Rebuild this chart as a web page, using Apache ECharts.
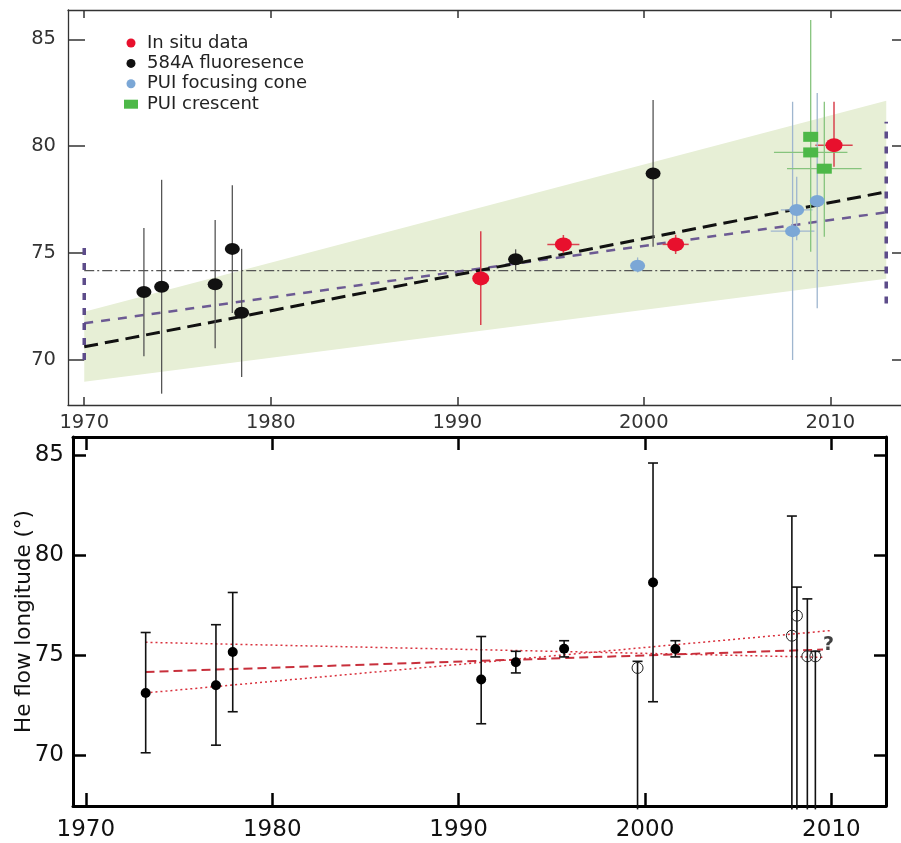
<!DOCTYPE html>
<html>
<head>
<meta charset="utf-8">
<title>He flow longitude</title>
<script src="https://cdn.jsdelivr.net/npm/echarts@6/dist/echarts.min.js"></script>
<style>
  html, body { margin: 0; padding: 0; background: #fff; }
  #chart { width: 901px; height: 843px; }
</style>
</head>
<body>
<div id="chart"></div>
<script>
// tick labels
const yearTicks = [1970, 1980, 1990, 2000, 2010]
const degTicks = [70, 75, 80, 85]

// top panel: [year, value, low, high, xErr]
const inSitu = [
  [1991.26, 73.82, 71.64, 76.03, 0],
  [1995.69, 75.41, 75.00, 75.85, 0.86],
  [2001.71, 75.41, 74.96, 75.86, 0.70],
  [2010.20, 80.05, 79.04, 82.08, 1.00]
]
const fluor584 = [
  [1973.20, 73.18, 70.18, 76.18, 0],
  [1974.15, 73.43, 68.43, 78.43, 0],
  [1977.02, 73.55, 70.55, 76.55, 0],
  [1977.94, 75.20, 72.20, 78.18, 0],
  [1978.44, 72.21, 69.21, 75.20, 0],
  [1993.13, 74.72, 74.20, 75.18, 0.40],
  [2000.50, 78.73, 75.30, 82.16, 0]
]
const puiCone = [
  [1999.67, 74.41, 74.10, 74.80, 0],
  [2007.98, 76.03, 70.00, 82.08, 1.17],
  [2008.20, 77.02, 75.60, 78.57, 0.85],
  [2009.30, 77.44, 72.42, 82.49, 0]
]
const puiCrescent = [
  [2008.95, 80.44, 75.07, 85.90, 0],
  [2008.95, 79.71, 79.71, 79.71, 1.97],
  [2009.68, 78.95, 75.77, 82.08, 2.00]
]
// fits in the top panel
const bandYears = [1970, 2013]
const bandLow = [68.99, 73.80]
const bandHigh = [72.26, 82.13]
const fitBlack = [[1970, 70.62], [2013, 77.87]]
const fitPurple = [[1970, 71.72], [2013, 76.91]]
const meanLine = [[1970, 74.18], [2013, 74.18]]
const rangeStart = [[1970, 70.0], [1970, 75.46]]
const rangeEnd = [[2013, 72.65], [2013, 81.15]]

// bottom panel: [year, value, low, high]
const botFilled = [
  [1973.21, 73.12, 70.13, 76.14],
  [1976.98, 73.50, 70.51, 76.53],
  [1977.88, 75.17, 72.18, 78.14],
  [1991.21, 73.79, 71.58, 75.94],
  [1993.07, 74.65, 74.12, 75.20],
  [1995.66, 75.33, 74.92, 75.73],
  [2000.43, 78.64, 72.68, 84.61],
  [2001.63, 75.32, 74.92, 75.73]
]
const botOpen = [
  [1999.60, 74.37, 67.30, 74.70],
  [2007.88, 75.98, 67.30, 81.96],
  [2008.15, 76.98, 67.30, 78.41],
  [2008.71, 74.95, 67.30, 77.82],
  [2009.14, 74.95, 67.30, 75.20]
]
const botFit = [[1973.2, 74.17], [2009.55, 75.29]]
const botRise = [[1973.2, 73.12], [2010.0, 76.24]]
const botFall = [[1973.2, 75.65], [2009.6, 74.90]]
const questionMark = [[2009.85, 75.5]]

// axis ranges (top one runs a little past the right edge of the page)
const topX = [1969.13, 2014.06], topY = [67.9, 86.37]
const botX = [1969.31, 2012.93], botY = [67.47, 85.91]

const FONT = '"DejaVu Sans", Verdana, sans-serif'

function errSeries(data, color, width, grid, cap) {
  return {
    type: 'custom', xAxisIndex: grid * 2, yAxisIndex: grid * 2, data, silent: true, z: 3,
    renderItem(params, api) {
      const x = api.value(0), lo = api.value(2), hi = api.value(3), xe = api.value(4) || 0
      const y = api.value(1)
      const a = api.coord([x, hi]), b = api.coord([x, lo])
      const kids = []
      const st = { stroke: color, lineWidth: width }
      if (hi !== lo) kids.push({ type: 'line', shape: { x1: a[0], y1: a[1], x2: b[0], y2: b[1] }, style: st })
      if (xe > 0) {
        const l = api.coord([x - xe, y]), r = api.coord([x + xe, y])
        kids.push({ type: 'line', shape: { x1: l[0], y1: l[1], x2: r[0], y2: r[1] }, style: st })
      }
      if (cap) {
        kids.push({ type: 'line', shape: { x1: a[0] - cap, y1: a[1], x2: a[0] + cap, y2: a[1] }, style: st })
        if (lo >= botY[0]) kids.push({ type: 'line', shape: { x1: b[0] - cap, y1: b[1], x2: b[0] + cap, y2: b[1] }, style: st })
      }
      return { type: 'group', children: kids }
    }
  }
}

function lineSeries(data, color, width, dash, grid, z) {
  return {
    type: 'line', xAxisIndex: grid * 2, yAxisIndex: grid * 2, data, symbol: 'none', silent: true, z: z || 2,
    lineStyle: { color, width, type: dash, cap: 'butt' }
  }
}

const plain = v => String(v)

function xAxes(grid, range, bottom) {
  const line = bottom ? { color: '#000', width: 3 } : { color: '#333', width: 1.3 }
  const base = {
    type: 'value', gridIndex: grid, min: range[0], max: range[1], splitLine: { show: false },
    axisLine: { show: true, onZero: false, lineStyle: line },
    axisTick: { show: true, inside: true, length: bottom ? 13 : 8, lineStyle: { color: line.color, width: bottom ? 2.5 : 1.5 }, customValues: yearTicks }
  }
  return [
    Object.assign({}, base, {
      position: 'bottom',
      axisLabel: { show: true, customValues: yearTicks, formatter: plain, margin: bottom ? 13 : 8, fontSize: bottom ? 23 : 19.5, color: bottom ? '#111' : '#333', fontFamily: FONT }
    }),
    Object.assign({}, base, { position: 'top', axisLabel: { show: false } })
  ]
}

function yAxes(grid, range, bottom) {
  const line = bottom ? { color: '#000', width: 3 } : { color: '#333', width: 1.3 }
  const base = {
    type: 'value', gridIndex: grid, min: range[0], max: range[1], splitLine: { show: false },
    axisLine: { show: true, onZero: false, lineStyle: line },
    axisTick: { show: true, inside: true, length: bottom ? 13 : 17, lineStyle: { color: line.color, width: bottom ? 2.5 : 1.5 }, customValues: degTicks }
  }
  const left = Object.assign({}, base, {
    position: 'left',
    axisLabel: { show: true, customValues: degTicks, formatter: plain, margin: bottom ? 9 : 12, fontSize: bottom ? 23 : 19.5, color: bottom ? '#111' : '#333', fontFamily: FONT }
  })
  if (bottom) {
    left.name = 'He flow longitude (°)'
    left.nameLocation = 'middle'
    left.nameGap = 38
    left.nameMoveOverlap = false
    left.nameTextStyle = { fontSize: 21.5, color: '#111', fontFamily: FONT }
  }
  const right = Object.assign({}, base, { position: 'right', axisLabel: { show: false } })
  right.axisTick = Object.assign({}, base.axisTick, { length: bottom ? 12 : 14 })
  return [left, right]
}

const chart = echarts.init(document.getElementById('chart'), null, { renderer: 'canvas' })

const option = {
  animation: false,
  backgroundColor: '#fff',
  textStyle: { fontFamily: FONT },
  grid: [
    { left: 68, top: 10, width: 838, height: 395, outerBoundsMode: 'none' },
    { left: 73, top: 437, width: 813, height: 369, outerBoundsMode: 'none' }
  ],
  xAxis: [...xAxes(0, topX, false), ...xAxes(1, botX, true)],
  yAxis: [...yAxes(0, topY, false), ...yAxes(1, botY, true)],
  legend: {
    orient: 'vertical', left: 119, top: 29, itemWidth: 14, itemHeight: 9, itemGap: 2.4,
    selectedMode: false,
    textStyle: { fontSize: 18, color: '#222', fontFamily: FONT, padding: [0, 0, 0, 4] },
    data: [
      { name: 'In situ data', icon: 'circle' },
      { name: '584A fluoresence', icon: 'circle' },
      { name: 'PUI focusing cone', icon: 'circle' },
      { name: 'PUI crescent', icon: 'rect' }
    ]
  },
  series: [
    // confidence band
    {
      type: 'custom', xAxisIndex: 0, yAxisIndex: 0, data: [0], silent: true, z: 1,
      renderItem(params, api) {
        const pts = [
          api.coord([bandYears[0], bandLow[0]]),
          api.coord([bandYears[1], bandLow[1]]),
          api.coord([bandYears[1], bandHigh[1]]),
          api.coord([bandYears[0], bandHigh[0]])
        ]
        return { type: 'polygon', shape: { points: pts }, style: { fill: '#e7efd6' } }
      }
    },
    lineSeries(meanLine, '#555', 1.2, [10, 3, 2, 3], 0),
    lineSeries(fitPurple, '#6c5a93', 2.5, [9, 8], 0),
    lineSeries(fitBlack, '#111', 3, [14, 7], 0),
    lineSeries(rangeStart, '#5d4c8a', 3.5, [7, 8], 0),
    lineSeries(rangeEnd, '#5d4c8a', 3.5, [7, 8], 0),

    errSeries(fluor584, '#555', 1.3, 0, 0),
    errSeries(inSitu, '#d9434f', 1.5, 0, 0),
    errSeries(puiCone, '#9fb6cf', 1.3, 0, 0),
    errSeries(puiCrescent, '#86c47d', 1.3, 0, 0),

    { name: 'In situ data', type: 'scatter', xAxisIndex: 0, yAxisIndex: 0, data: inSitu, symbol: 'circle', symbolSize: [17, 14], itemStyle: { color: '#e8102d', opacity: 1 }, z: 5 },
    { name: '584A fluoresence', type: 'scatter', xAxisIndex: 0, yAxisIndex: 0, data: fluor584, symbol: 'circle', symbolSize: [15, 12], itemStyle: { color: '#111', opacity: 1 }, z: 5 },
    { name: 'PUI focusing cone', type: 'scatter', xAxisIndex: 0, yAxisIndex: 0, data: puiCone, symbol: 'circle', symbolSize: [15, 12], itemStyle: { color: '#7ba7d6', opacity: 1 }, z: 5 },
    { name: 'PUI crescent', type: 'scatter', xAxisIndex: 0, yAxisIndex: 0, data: puiCrescent, symbol: 'rect', symbolSize: [15, 10], itemStyle: { color: '#4db848', opacity: 1 }, z: 5 },

    // bottom panel
    lineSeries(botRise, '#d9303c', 1.5, [2, 3], 1),
    lineSeries(botFall, '#d9303c', 1.5, [2, 3], 1),
    lineSeries(botFit, '#c8303c', 2, [9, 5], 1),
    errSeries(botFilled, '#111', 1.6, 1, 5),
    errSeries(botOpen, '#111', 1.6, 1, 5),
    { type: 'scatter', xAxisIndex: 2, yAxisIndex: 2, data: botFilled, symbol: 'circle', symbolSize: 10, itemStyle: { color: '#000', opacity: 1 }, z: 5, silent: true },
    { type: 'scatter', xAxisIndex: 2, yAxisIndex: 2, data: botOpen, symbol: 'circle', symbolSize: 11, itemStyle: { color: 'rgba(0,0,0,0)', borderColor: '#222', borderWidth: 1, opacity: 1 }, z: 5, silent: true },
    {
      type: 'scatter', xAxisIndex: 2, yAxisIndex: 2, data: questionMark, symbolSize: 0, silent: true, z: 6,
      label: { show: true, position: 'inside', formatter: '?', fontSize: 19, fontWeight: 'bold', color: '#111', fontFamily: FONT }
    }
  ]
}

chart.setOption(option)
</script>
</body>
</html>
